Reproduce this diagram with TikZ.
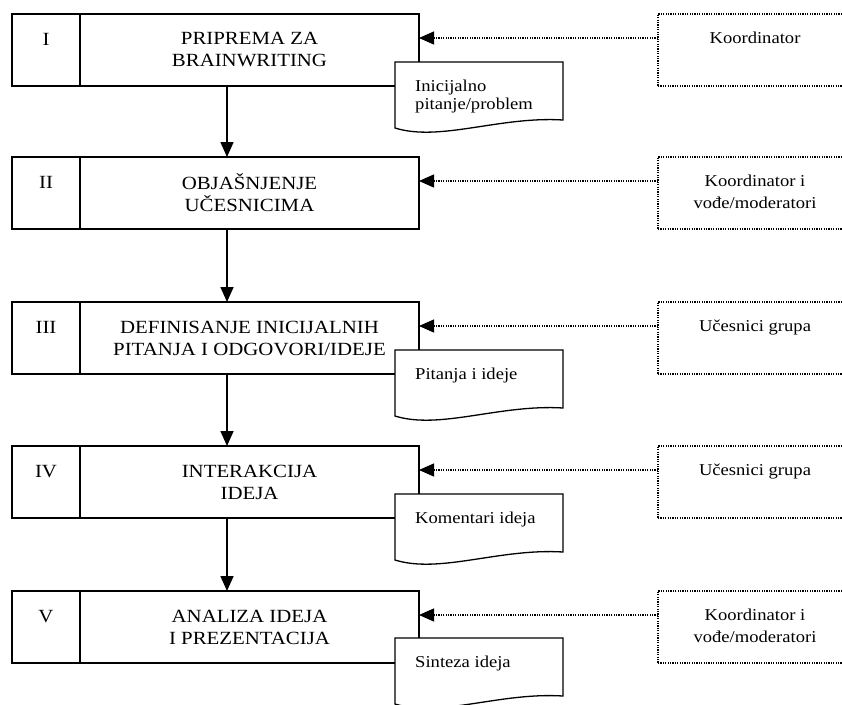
\documentclass[tikz,border=0pt]{standalone}
\usepackage{fontspec}
\setmainfont{Liberation Serif}[FakeStretch=1.12]
\usetikzlibrary{arrows.meta,positioning}

\tikzset{
  numbox/.style={draw, line width=1.6pt, outer sep=0pt, inner sep=0pt,
    minimum width=68pt, minimum height=72pt, text height=12pt, text depth=22pt,
    font=\fontsize{18.6}{22}\selectfont},
  stagebox/.style={draw, line width=1.6pt, outer sep=0pt, inner sep=0pt,
    minimum width=339pt, minimum height=72pt, align=center,
    font=\fontsize{18.6}{22}\selectfont},
  rolebox/.style={draw, line width=1.3pt, dash pattern=on 1.2pt off 1.2pt,
    outer sep=0pt, minimum width=194pt, minimum height=72pt, anchor=north west},
  roletext/.style={anchor=north, inner sep=0pt, align=center,
    font=\fontsize{16.6}{21.6}\selectfont},
  doctext/.style={anchor=north west, inner sep=0pt, align=left,
    font=\fontsize{16.6}{18.4}\selectfont},
  flow/.style={line width=1.6pt, -{Triangle[length=15pt,width=13pt]}},
  roleline/.style={line width=1.3pt, dash pattern=on 1.2pt off 1.2pt,
    -{Triangle[length=15pt,width=13pt]}},
  docshape/.pic={
    \draw[line width=1.3pt, fill=white] (0,0) -- (168,0) -- (168,58)
      .. controls (105,54) and (45,80) .. (0,66) -- cycle;
  }
}

\begin{document}
\begin{tikzpicture}[x=1pt, y=-1pt]
    \useasboundingbox (0,0) rectangle (842,704);

    % -------------------------------
    % I: priprema
    % -------------------------------
    \node[numbox, anchor=north west] (n1) at (12,14) {I};
    \node[stagebox, right=0pt of n1] (s1) {PRIPREMA ZA\\BRAINWRITING};
    \node[rolebox] (r1) at (658,14) {};
    \node[roletext] (t1) at ([yshift=-18pt]r1.north) {Koordinator};

    % -------------------------------
    % II: objasnjenje
    % -------------------------------
    \node[numbox, anchor=north west] (n2) at (12,157) {II};
    \node[stagebox, right=0pt of n2] (s2) {OBJAŠNJENJE\\UČESNICIMA};
    \node[rolebox] (r2) at (658,157) {};
    \node[roletext] (t2) at ([yshift=-18pt]r2.north) {Koordinator i\\vođe/moderatori};

    % -------------------------------
    % III: definisanje
    % -------------------------------
    \node[numbox, anchor=north west] (n3) at (12,302) {III};
    \node[stagebox, right=0pt of n3] (s3) {DEFINISANJE INICIJALNIH\\PITANJA I ODGOVORI/IDEJE};
    \node[rolebox] (r3) at (658,302) {};
    \node[roletext] (t3) at ([yshift=-18pt]r3.north) {Učesnici grupa};

    % -------------------------------
    % IV: interakcija
    % -------------------------------
    \node[numbox, anchor=north west] (n4) at (12,446) {IV};
    \node[stagebox, right=0pt of n4] (s4) {INTERAKCIJA\\IDEJA};
    \node[rolebox] (r4) at (658,446) {};
    \node[roletext] (t4) at ([yshift=-18pt]r4.north) {Učesnici grupa};

    % -------------------------------
    % V: analiza
    % -------------------------------
    \node[numbox, anchor=north west] (n5) at (12,591) {V};
    \node[stagebox, right=0pt of n5] (s5) {ANALIZA IDEJA\\I PREZENTACIJA};
    \node[rolebox] (r5) at (658,591) {};
    \node[roletext] (t5) at ([yshift=-18pt]r5.north) {Koordinator i\\vođe/moderatori};

    % tok izmedju faza
    \foreach \i [evaluate=\i as \j using int(\i+1)] in {1,...,4} {
        \draw[flow] ([xshift=147pt]s\i.south west) -- ([xshift=147pt]s\j.north west);
    }
    % uloge
    \foreach \i in {1,...,5} {
        \draw[roleline] ([yshift=-24pt]r\i.north west) -- ([yshift=-24pt]s\i.north east);
    }

    % dokumenti
    \pic at (395,62) {docshape};
    \node[doctext] (d1) at (415,79.5) {Inicijalno\\pitanje/problem};
    \pic at (395,350) {docshape};
    \node[doctext] (d3) at (415,367.5) {Pitanja i ideje};
    \pic at (395,494) {docshape};
    \node[doctext] (d4) at (415,511.5) {Komentari ideja};
    \pic at (395,638) {docshape};
    \node[doctext] (d5) at (415,655.5) {Sinteza ideja};

\end{tikzpicture}
\end{document}
